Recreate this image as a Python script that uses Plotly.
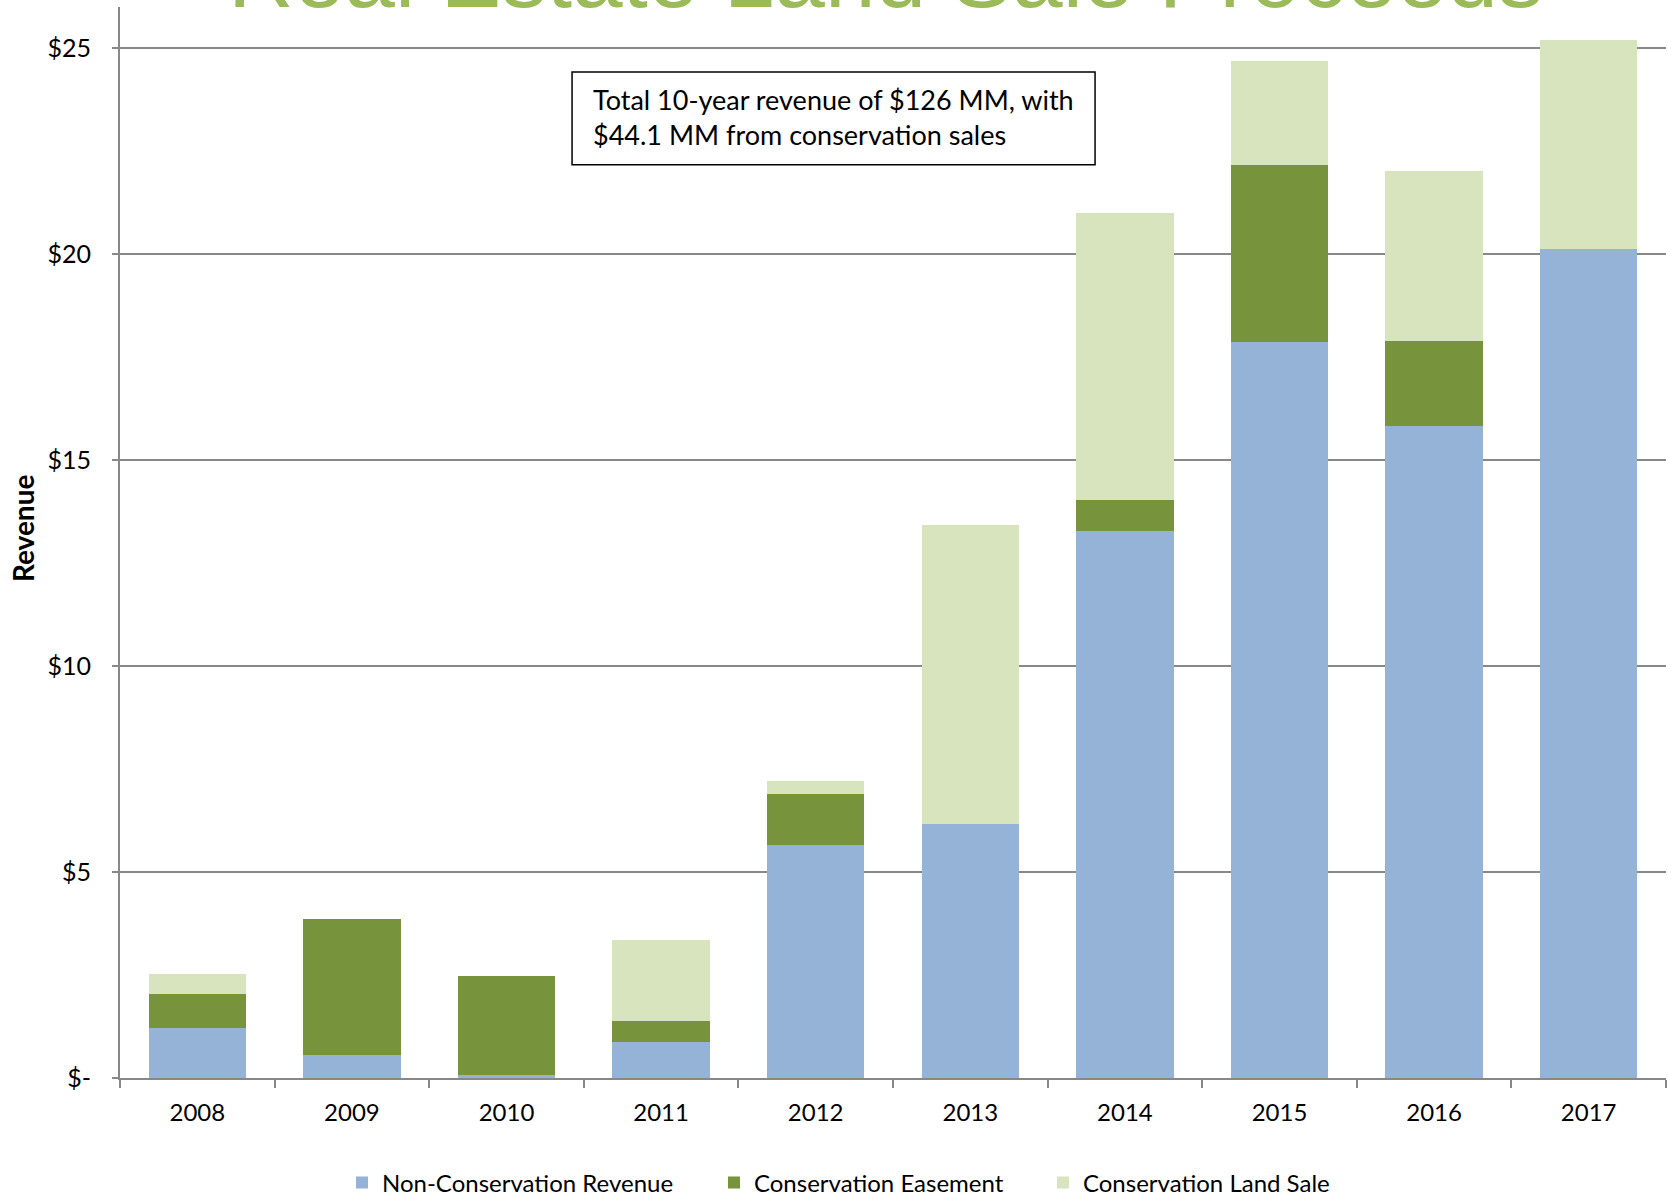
import plotly.graph_objects as go

years = ["2008", "2009", "2010", "2011", "2012", "2013", "2014", "2015", "2016", "2017"]
non_conservation = [1.21, 0.57, 0.08, 0.88, 5.66, 6.17, 13.27, 17.87, 15.83, 20.12]
easement = [0.83, 3.30, 2.40, 0.51, 1.24, 0.00, 0.75, 4.29, 2.07, 0.00]
land_sale = [0.49, 0.00, 0.00, 1.97, 0.31, 7.26, 6.98, 2.53, 4.13, 5.09]
y_ticks = [0, 5, 10, 15, 20, 25]
y_tick_text = ["$-", "$5", "$10", "$15", "$20", "$25"]

FONT = "Lato"
GRID = "#888888"

fig = go.Figure()
fig.add_trace(go.Bar(x=years, y=non_conservation, name="Non-Conservation Revenue",
                     marker=dict(color="#95B3D7", line=dict(width=0)), legend="legend"))
fig.add_trace(go.Bar(x=years, y=easement, name="Conservation Easement",
                     marker=dict(color="#77933C", line=dict(width=0)), legend="legend2"))
fig.add_trace(go.Bar(x=years, y=land_sale, name="Conservation Land Sale",
                     marker=dict(color="#D7E4BD", line=dict(width=0)), legend="legend3"))

legend_common = dict(orientation="h", yref="paper", y=-0.098, yanchor="middle",
                     xanchor="left", font=dict(family=FONT, size=24, color="black"),
                     bgcolor="rgba(0,0,0,0)")

fig.update_layout(
    barmode="stack",
    bargap=0.37,
    width=1668, height=1196,
    margin=dict(l=120, r=2, t=7, b=118, autoexpand=False),
    paper_bgcolor="white", plot_bgcolor="white",
    font=dict(family=FONT, size=24, color="black"),
    showlegend=True,
    legend=dict(x=0.1436, **legend_common),
    legend2=dict(x=0.3842, **legend_common),
    legend3=dict(x=0.597, **legend_common),
    xaxis=dict(type="category", range=[-0.5, 9.5], tickson="boundaries",
               ticks="outside", ticklen=8, tickwidth=2, tickcolor=GRID,
               ticklabelstandoff=12, automargin=False,
               showline=True, linecolor=GRID, linewidth=2,
               showgrid=False, tickfont=dict(family=FONT, size=24), fixedrange=True),
    yaxis=dict(range=[0, 26.0], tickvals=y_ticks, ticktext=y_tick_text,
               ticks="outside", ticklen=6, tickwidth=1.5, tickcolor=GRID,
               ticklabelstandoff=16, automargin=False,
               showline=True, linecolor=GRID, linewidth=2,
               showgrid=True, gridcolor=GRID, gridwidth=1.5,
               zeroline=False, tickfont=dict(family=FONT, size=25)),
)

# Chart title (mostly cut off at the top of the image)
fig.add_annotation(text="Real Estate Land Sale Proceeds", xref="paper", yref="paper",
                   x=0.495, y=0.980, xanchor="center", yanchor="bottom", showarrow=False,
                   font=dict(family="Liberation Sans", size=91, color="#9BBB59"))

# Y axis title
fig.add_annotation(text="<b>Revenue</b>", xref="paper", yref="paper",
                   x=-0.0627, y=0.5135, xanchor="center", yanchor="middle",
                   textangle=-90, showarrow=False,
                   font=dict(family=FONT, size=28, color="black"))

# Text box
fig.add_shape(type="rect", xref="paper", yref="paper",
              x0=0.2924, x1=0.6307, y0=0.8527, y1=0.9394,
              line=dict(color="black", width=1.5), fillcolor="white", layer="above")
fig.add_annotation(text="Total 10-year revenue of $126 MM, with<br>$44.1 MM from conservation sales",
                   xref="paper", yref="paper", x=0.3047, y=0.8972,
                   xanchor="left", yanchor="middle", align="left", showarrow=False,
                   font=dict(family=FONT, size=27, color="black"))

fig.write_html("out.html", config={"displayModeBar": False},
               post_script="document.body.style.margin='0px';")
